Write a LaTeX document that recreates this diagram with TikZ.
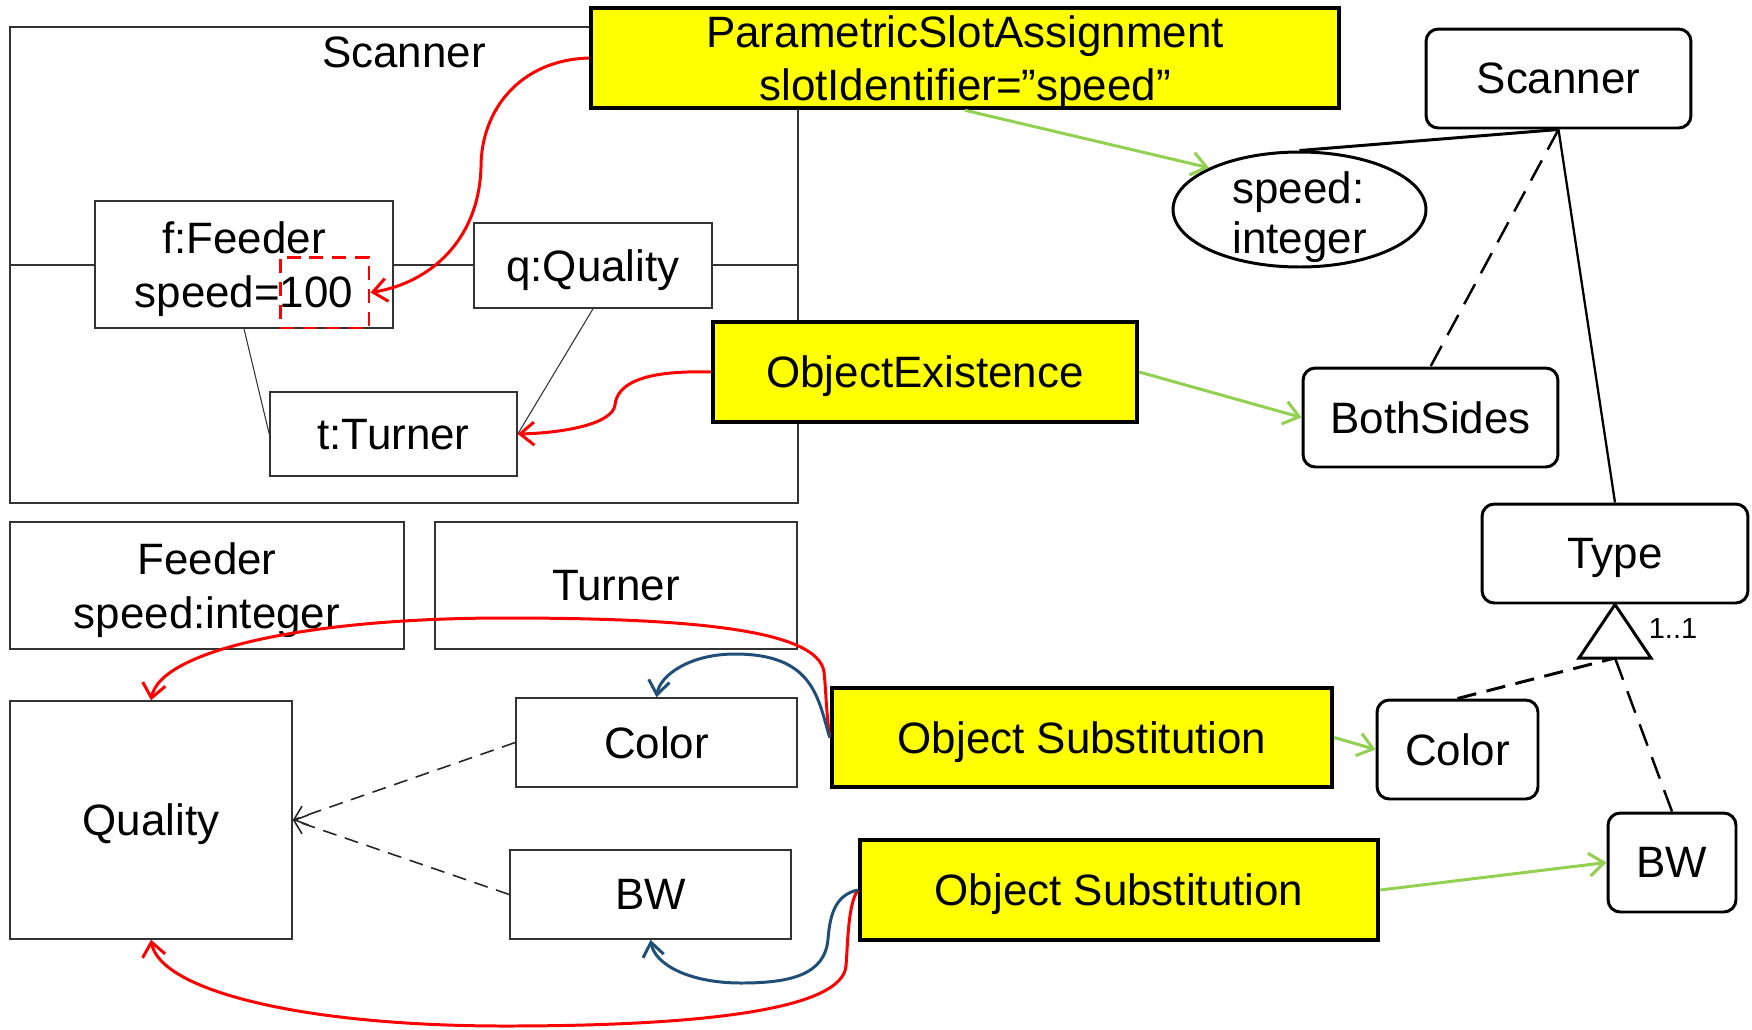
\documentclass[tikz,border=0pt]{standalone}
\usepackage{fontspec}
\setmainfont{Liberation Sans}
\usetikzlibrary{arrows.meta, positioning, shapes.geometric}
\definecolor{opyellow}{HTML}{FFFF00}
\definecolor{mapgreen}{HTML}{92D050}
\definecolor{subblue}{HTML}{1F4E79}

\begin{document}
\begin{tikzpicture}[
    x=0.02cm, y=-0.02cm,
    every node/.style={font=\fontsize{25}{30.5}\selectfont, inner sep=0pt, text depth=0pt},
    obj/.style={draw=black!80, line width=0.9pt, fill=white, align=center},
    op/.style={draw, line width=2.6pt, fill=opyellow, align=center},
    meta/.style={draw, line width=1.7pt, rounded corners=7pt, fill=white, align=center, minimum height=1.98cm},
    thinln/.style={draw=black!80, line width=0.9pt},
    redarr/.style={draw=red, line width=1.7pt, -{Straight Barb[length=0.28cm, width=0.46cm]}},
    bluearr/.style={draw=subblue, line width=1.7pt, -{Straight Barb[length=0.28cm, width=0.42cm]}},
    greenarr/.style={draw=mapgreen, line width=1.7pt, -{Straight Barb[length=0.3cm, width=0.46cm]}},
    realizes/.style={draw=black!85, line width=0.9pt, dash pattern=on 8pt off 5pt, -{Straight Barb[length=0.24cm, width=0.4cm]}}
    ]
    \useasboundingbox (0,0) rectangle (1752,1029);

    % instance diagram
    \node[obj, minimum width=15.76cm, minimum height=9.52cm] (scanframe) at (404,265) {};
    \node (scanlbl) at (404,52) {Scanner};
    \draw[thinln] (scanframe.west) -- (scanframe.east);
    \node[obj, minimum width=5.96cm, minimum height=2.54cm] (feeder) at (244,264.5) {f:Feeder\\speed=100};
    \node[draw=red, line width=1.7pt, dash pattern=on 8pt off 5pt, minimum width=1.78cm, minimum height=1.42cm] (slotval) at (324.5,292.5) {};
    \node[obj, minimum width=4.76cm, minimum height=1.7cm] (qualobj) at (593,265.5) {q:Quality};
    \node[obj, minimum width=4.94cm, minimum height=1.68cm] (turnobj) at (393.5,434) {t:Turner};
    \draw[thinln, line width=0.6pt] (feeder.south) -- (turnobj.west);
    \draw[thinln, line width=0.6pt] (qualobj.south) -- (turnobj.east);

    % class diagram
    \node[obj, minimum width=7.88cm, minimum height=2.54cm] (feederc) at (207,585.5) {Feeder\\speed:integer};
    \node[obj, minimum width=7.24cm, minimum height=2.54cm] (turnerc) at (616,585.5) {Turner};
    \node[obj, minimum width=5.64cm, minimum height=4.76cm] (qualc) at (151,820) {Quality};
    \node[obj, minimum width=5.62cm, minimum height=1.78cm] (colorc) at (656.5,742.5) {Color};
    \node[obj, minimum width=5.62cm, minimum height=1.78cm] (bwc) at (650.5,894.5) {BW};
    \draw[realizes] (colorc.west) -- (qualc.east);
    \draw[realizes] (bwc.west) -- (qualc.east);

    % variability operations
    \node[op, minimum width=14.96cm, minimum height=2cm] (psa) at (965,58) {ParametricSlotAssignment\\slotIdentifier=”speed”};
    \node[op, minimum width=8.48cm, minimum height=2cm] (oe) at (925,372) {ObjectExistence};
    \node[op, minimum width=10cm, minimum height=1.98cm] (os1) at (1082,737.5) {Object Substitution};
    \node[op, minimum width=10.36cm, minimum height=2cm] (os2) at (1119,890) {Object Substitution};

    % variability model
    \node[meta, minimum width=5.3cm] (scanm) at (1558.5,78.5) {Scanner};
    \node[draw, ellipse, line width=1.7pt, fill=white, minimum width=5.06cm, minimum height=2.3cm] (speedm) at (1299.5,209.5) {};
    \node[align=left, font=\fontsize{25}{28.5}\selectfont] (speedtxt) at (1299.5,213) {speed:\\integer};
    \node[meta, minimum width=5.1cm] (bothm) at (1430.5,417.5) {BothSides};
    \node[meta, minimum width=5.32cm] (typem) at (1615,553.5) {Type};
    \node[meta, minimum width=3.22cm] (colorm) at (1457.5,749.5) {Color};
    \node[meta, minimum width=2.56cm] (bwm) at (1672,862.5) {BW};
    \coordinate (gen) at (1615,658);
    \node[font=\fontsize{16.5}{20}\selectfont] (mult) at (1673,629) {1..1};

    \draw[line width=1.7pt] (scanm.south) -- (speedm.north);
    \draw[line width=1.4pt, dash pattern=on 13pt off 7pt] (scanm.south) -- (bothm.north);
    \draw[line width=1.3pt] (scanm.south) -- (typem.north);
    \draw[line width=1.7pt, dash pattern=on 11pt off 6pt] (colorm.north) -- (gen);
    \draw[line width=1.4pt, dash pattern=on 13pt off 7pt] (bwm.north) -- (gen);
    \draw[line width=1.7pt, fill=white] (typem.south) -- ([xshift=-0.72cm]gen) -- ([xshift=0.72cm]gen) -- cycle;

    % mappings
    \draw[greenarr] (psa.south) -- (speedm.north west);
    \draw[greenarr] (oe.east) -- (bothm.west);
    \draw[greenarr] (os1.east) -- (colorm.west);
    \draw[greenarr] (os2.east) -- (bwm.west);

    \draw[redarr] (psa.west) .. controls (520,60) and (481,110) .. (481,167)
        .. controls (479,240) and (430,283) .. (slotval.east);
    \draw[redarr] (oe.west) .. controls (640,370) and (617,385) .. (615,405)
        .. controls (612,425) and (560,433) .. (turnobj.east);
    \draw[redarr] (os1.west) .. controls (826,710) and (826,690) .. (824,672)
        .. controls (818,628) and (680,618) .. (505,618)
        .. controls (300,618) and (160,652) .. (qualc.north);
    \draw[redarr] (os2.west) .. controls (848,905) and (848,940) .. (846,966)
        .. controls (842,1010) and (700,1026) .. (505,1026)
        .. controls (300,1026) and (160,990) .. (qualc.south);
    \draw[bluearr] (os1.west) .. controls (818,700) and (815,654) .. (735,654)
        .. controls (690,654) and (660,675) .. (colorc.north);
    \draw[bluearr] (os2.west) .. controls (835,895) and (830,915) .. (828,939)
        .. controls (825,975) and (790,983) .. (741,983)
        .. controls (690,983) and (655,965) .. (bwc.south);
\end{tikzpicture}
\end{document}
